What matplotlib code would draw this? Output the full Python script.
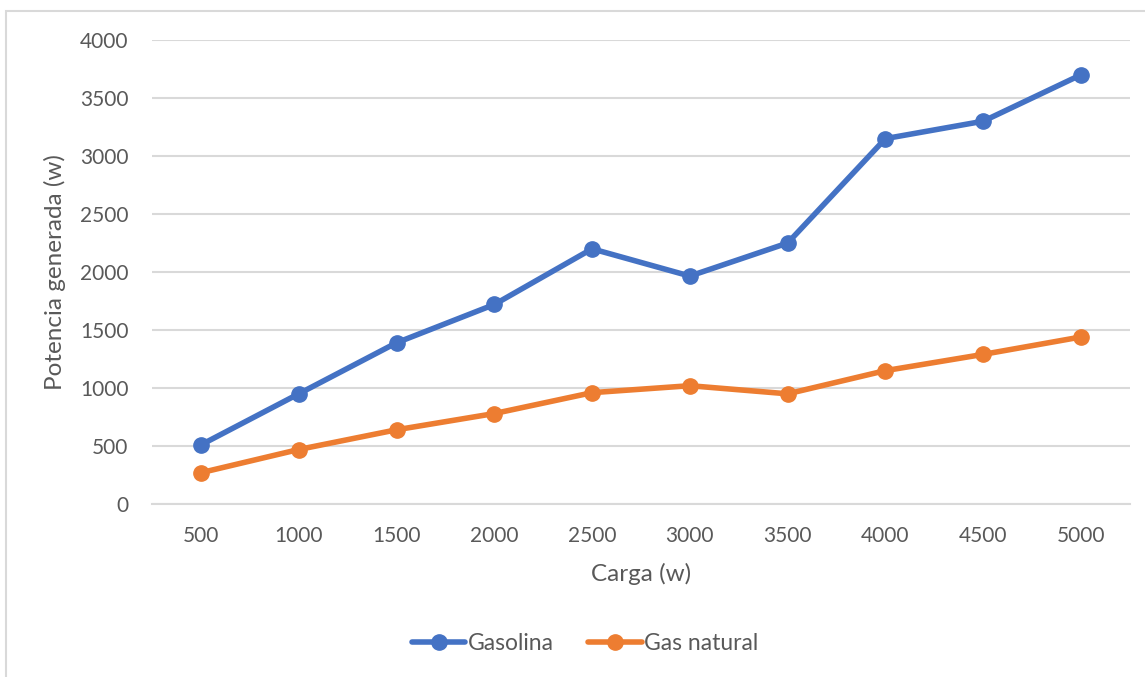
import matplotlib.pyplot as plt
from matplotlib.patches import Rectangle

carga = ['500', '1000', '1500', '2000', '2500', '3000', '3500', '4000', '4500', '5000']
gasolina = [510, 950, 1390, 1720, 2200, 1965, 2250, 3150, 3300, 3700]
gas_natural = [270, 470, 640, 780, 960, 1020, 950, 1150, 1290, 1440]

plt.rcParams['font.family'] = ['Lato', 'DejaVu Sans']
text_color = '#595959'

fig = plt.figure(figsize=(11.45, 6.77), dpi=100)
ax = fig.add_axes([0.1328, 0.2555, 0.854, 0.6854])

# light frame round the whole chart
fig.patches.append(Rectangle((6 / 1145, -0.1), 1.2, 1 - 11 / 677 + 0.1,
                             transform=fig.transFigure, fill=False,
                             edgecolor='#D9D9D9', linewidth=1.5))

x = list(range(len(carga)))
ax.plot(x, gasolina, color='#4472C4', linewidth=4, marker='o',
        markersize=11, label='Gasolina', solid_capstyle='round', zorder=3)
ax.plot(x, gas_natural, color='#ED7D31', linewidth=4, marker='o',
        markersize=11, label='Gas natural', solid_capstyle='round', zorder=3)

ax.set_xlim(-0.5, len(carga) - 0.5)
ax.set_ylim(0, 4000)
ax.set_yticks(range(0, 4001, 500))
ax.set_xticks(x)
ax.set_xticklabels(carga)
ax.yaxis.grid(True, color='#D9D9D9', linewidth=1.5)
ax.set_axisbelow(True)
for side in ['top', 'right', 'left']:
    ax.spines[side].set_visible(False)
ax.spines['bottom'].set_color('#D9D9D9')
ax.spines['bottom'].set_linewidth(1.5)
ax.tick_params(axis='both', length=0, labelsize=15, labelcolor=text_color)
ax.tick_params(axis='y', pad=17)
ax.tick_params(axis='x', pad=16)

ax.set_xlabel('Carga (w)', fontsize=17.5, color=text_color, labelpad=12)
ax.set_ylabel('Potencia generada (w)', fontsize=17.5, color=text_color, labelpad=10)

fig.legend(loc='center', bbox_to_anchor=(0.511, 1 - 644 / 677), ncol=2,
           frameon=False, fontsize=16.5, labelcolor=text_color,
           handlelength=2.35, handletextpad=0.1, columnspacing=1.5)

fig.savefig('out.png', dpi=100)
